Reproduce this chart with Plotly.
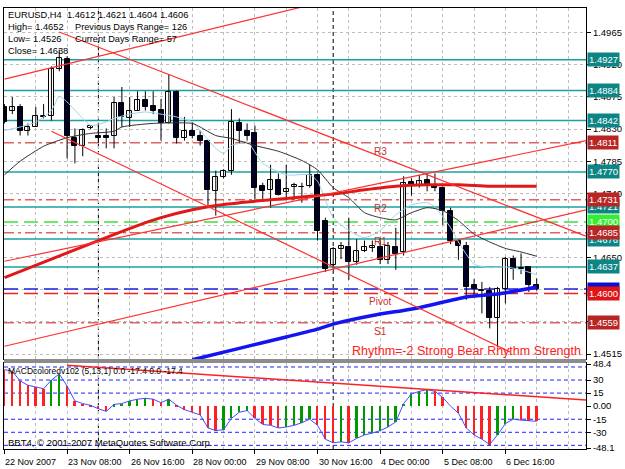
import plotly.graph_objects as go

# ---------------- data ----------------
bar_index = list(range(69))
opens = [1.4861, 1.4856, 1.4861, 1.4827, 1.4833, 1.4847, 1.4849, 1.4914, 1.4928, 1.4817,
         1.4806, 1.4831, 1.4821, 1.4821, 1.4820, 1.4867, 1.4845, 1.4856, 1.4871, 1.4863,
         1.4857, 1.4838, 1.4882, 1.4817, 1.4828, 1.4821, 1.4813, 1.4743, 1.4763, 1.4771,
         1.4838, 1.4827, 1.4824, 1.4750, 1.4745, 1.4759, 1.4742, 1.4749, 1.4749, 1.4750,
         1.4766, 1.4702, 1.4640, 1.4662, 1.4665, 1.4644, 1.4660, 1.4663, 1.4665, 1.4647,
         1.4665, 1.4658, 1.4756, 1.4752, 1.4759, 1.4752, 1.4748, 1.4716, 1.4674, 1.4667,
         1.4612, 1.4605, 1.4604, 1.4565, 1.4606, 1.4648, 1.4635, 1.4637, 1.4612]
highs = [1.4865, 1.4875, 1.4865, 1.4838, 1.4861, 1.4865, 1.4918, 1.4941, 1.4932, 1.4831,
         1.4831, 1.4835, 1.4838, 1.4831, 1.4875, 1.4889, 1.4875, 1.4883, 1.4883, 1.4883,
         1.4872, 1.4907, 1.4884, 1.4847, 1.4840, 1.4828, 1.4815, 1.4772, 1.4774, 1.4858,
         1.4845, 1.4838, 1.4835, 1.4755, 1.4780, 1.4768, 1.4780, 1.4755, 1.4755, 1.4780,
         1.4768, 1.4706, 1.4665, 1.4672, 1.4706, 1.4676, 1.4674, 1.4674, 1.4678, 1.4672,
         1.4692, 1.4764, 1.4761, 1.4766, 1.4768, 1.4768, 1.4750, 1.4720, 1.4676, 1.4672,
         1.4620, 1.4616, 1.4609, 1.4609, 1.4651, 1.4653, 1.4656, 1.4638, 1.4621]
lows = [1.4838, 1.4851, 1.4821, 1.4821, 1.4833, 1.4845, 1.4842, 1.4911, 1.4789, 1.4782,
        1.4792, 1.4830, 1.4810, 1.4803, 1.4803, 1.4833, 1.4833, 1.4856, 1.4856, 1.4851,
        1.4814, 1.4838, 1.4810, 1.4814, 1.4817, 1.4807, 1.4723, 1.4709, 1.4761, 1.4766,
        1.4810, 1.4814, 1.4731, 1.4731, 1.4720, 1.4737, 1.4734, 1.4731, 1.4727, 1.4748,
        1.4674, 1.4630, 1.4633, 1.4648, 1.4619, 1.4640, 1.4658, 1.4658, 1.4641, 1.4641,
        1.4633, 1.4653, 1.4737, 1.4748, 1.4743, 1.4743, 1.4696, 1.4669, 1.4647, 1.4591,
        1.4595, 1.4572, 1.4551, 1.4526, 1.4586, 1.4619, 1.4627, 1.4602, 1.4604]
closes = [1.4840, 1.4861, 1.4827, 1.4833, 1.4849, 1.4849, 1.4914, 1.4930, 1.4820, 1.4807,
          1.4829, 1.4835, 1.4817, 1.4817, 1.4867, 1.4847, 1.4856, 1.4871, 1.4861, 1.4856,
          1.4839, 1.4882, 1.4817, 1.4828, 1.4820, 1.4813, 1.4745, 1.4763, 1.4771, 1.4840,
          1.4828, 1.4820, 1.4748, 1.4743, 1.4759, 1.4738, 1.4746, 1.4752, 1.4749, 1.4766,
          1.4688, 1.4634, 1.4662, 1.4666, 1.4644, 1.4660, 1.4665, 1.4667, 1.4647, 1.4667,
          1.4655, 1.4755, 1.4750, 1.4757, 1.4750, 1.4748, 1.4716, 1.4674, 1.4667, 1.4609,
          1.4606, 1.4603, 1.4565, 1.4606, 1.4648, 1.4634, 1.4634, 1.4612, 1.4606]

slow_ma_bars = [0, 2, 5, 8, 11, 14, 15, 19, 24, 25, 27, 29, 32, 35, 38, 40, 42, 44, 46, 48,
                50, 52, 54, 56, 58, 60, 62, 64, 66, 68]
slow_ma = [1.4766, 1.4785, 1.4806, 1.4818, 1.4824, 1.4827, 1.4833, 1.4838, 1.4838, 1.4833,
           1.4821, 1.4817, 1.4807, 1.4799, 1.4786, 1.4773, 1.4748, 1.4734, 1.4713, 1.4706,
           1.4703, 1.4713, 1.4720, 1.4716, 1.4702, 1.4683, 1.4672, 1.4663, 1.4658, 1.4652]

fast_ma_bars = [0, 2, 4, 6, 7, 8, 10, 11, 13, 14, 16, 18, 20, 22, 24, 25, 27, 28, 29, 30,
                31, 33, 36, 39, 40, 42, 44, 46, 48, 50, 52, 54, 55, 57, 58, 60, 62, 64, 66, 68]
fast_ma = [1.4828, 1.4833, 1.4840, 1.4856, 1.4876, 1.4868, 1.4845, 1.4835, 1.4840, 1.4845,
           1.4851, 1.4854, 1.4851, 1.4847, 1.4840, 1.4828, 1.4803, 1.4796, 1.4807, 1.4810,
           1.4813, 1.4782, 1.4766, 1.4766, 1.4757, 1.4706, 1.4688, 1.4678, 1.4688, 1.4710,
           1.4724, 1.4727, 1.4721, 1.4692, 1.4672, 1.4641, 1.4636, 1.4637, 1.4633, 1.4626]

red_ema_bars = [0, 6, 12, 17, 20, 24, 27, 31, 34, 38, 42, 46, 50, 54, 58, 62, 66, 68]
red_ema = [1.4622, 1.4648, 1.4674, 1.4695, 1.4706, 1.4717, 1.4723, 1.4728, 1.4731, 1.4735,
           1.4739, 1.4745, 1.4750, 1.4752, 1.4752, 1.4750, 1.4750, 1.4750]

blue_ema_bars = [24, 30, 36, 40, 42, 47, 53, 59, 63, 68]
blue_ema = [1.4507, 1.4523, 1.4539, 1.4550, 1.4557, 1.4569, 1.4580, 1.4595, 1.4599, 1.4609]

# trend lines: (bar start, price start, bar end, price end)
trend_lines = [
    (0.0, 1.4900, 38.0, 1.5001),
    (7.0, 1.4966, 74.3, 1.4680),
    (6.0, 1.4827, 64.6, 1.4518),
    (0.0, 1.4645, 74.3, 1.4814),
    (0.0, 1.4526, 74.3, 1.4717),
]

level_prices = [1.4927, 1.4884, 1.4842, 1.4811, 1.4770, 1.4731, 1.4721, 1.4700, 1.4685,
                1.4676, 1.4637, 1.4606, 1.4600, 1.4559]
level_kinds = ['teal', 'teal', 'teal', 'red', 'teal', 'red', 'teal', 'green', 'red',
               'teal', 'teal', 'blue', 'pivot', 'red']

pivot_names = ['R3', 'R2', 'R1', 'Pivot', 'S1']
pivot_prices = [1.4811, 1.4731, 1.4685, 1.4600, 1.4559]
pivot_bar = 48

macd = [42, 40, 29, 24, 22, 20, 30, 37, 23, 6, 3, 1, -3, -6, 2, 3, 6, 8, 9, 8,
        4, 8, 1, -4, -7, -10, -25, -28, -27, -14, -7, -5, -14, -21, -22, -25, -24, -22, -19, -15,
        -22, -38, -42, -41, -42, -37, -33, -31, -28, -24, -18, 3, 14, 17, 19, 17, 10, 0, -8, -25,
        -33, -38, -44, -33, -20, -15, -16, -17, -17.4]
macd_trend = (8.0, 47.0, 74.3, 7.0)
macd_levels = [45, 30, 15, -15, -30, -45]
macd_ticks = [48.4, 30, 15, 0, -15, -30, -48.1]
macd_tick_text = ['48.4', '30', '15', '0.00', '-15', '-30', '-48.1']

price_ticks = [1.4515, 1.4560, 1.4605, 1.4650, 1.4695, 1.4740, 1.4785, 1.4830, 1.4875,
               1.4920, 1.4965]
hidden_price_ticks = [1.4560, 1.4605, 1.4695]   # covered by level labels in the original

x_label_bars = [0, 8, 16, 24, 32, 40, 48, 56, 64]
x_labels = ['22 Nov 2007', '23 Nov 08:00', '26 Nov 16:00', '28 Nov 00:00', '29 Nov 08:00',
            '30 Nov 16:00', '4 Dec 00:00', '5 Dec 08:00', '6 Dec 16:00']
week_separators = [12, 42]

header_lines = ['EURUSD,H4  1.4612 1.4621 1.4604 1.4606', 'High= 1.4652', 'Low= 1.4526',
                'Close= 1.4638']
range_lines = ['Previous Days Range= 126', 'Current Days Range= 57']

# ---------------- figure ----------------
W, H = 625, 469
ML, MR, MT, MB = 3, 39, 3, 20
PW, PH = W - ML - MR, H - MT - MB
FONT = 'Liberation Sans'


def px_x(px):
    return (px - ML) / PW


def px_y(py):
    return (H - MB - py) / PH


main_dom = [px_y(358), 1]
macd_dom = [0, px_y(362)]
xr = [-0.06, 74.3]

fig = go.Figure()

# candle wicks
wx, wy = [], []
for i in bar_index:
    wx += [i, i, None]
    wy += [lows[i], highs[i], None]
fig.add_trace(go.Scatter(x=wx, y=wy, mode='lines', line=dict(color='black', width=1),
                         hoverinfo='skip'))

bull = [i for i in bar_index if closes[i] >= opens[i]]
bear = [i for i in bar_index if closes[i] < opens[i]]
fig.add_trace(go.Bar(x=bull, y=[max(closes[i] - opens[i], 0.00004) for i in bull],
                     base=[opens[i] for i in bull], width=0.64,
                     marker=dict(color='white', line=dict(color='black', width=1))))
fig.add_trace(go.Bar(x=bear, y=[max(opens[i] - closes[i], 0.00004) for i in bear],
                     base=[closes[i] for i in bear], width=0.64,
                     marker=dict(color='#000030', line=dict(color='black', width=1))))

# moving averages
fig.add_trace(go.Scatter(x=fast_ma_bars, y=fast_ma, mode='lines',
                         line=dict(color='#9fd4e6', width=1, shape='spline', smoothing=0.6)))
fig.add_trace(go.Scatter(x=slow_ma_bars, y=slow_ma, mode='lines',
                         line=dict(color='#303030', width=1, shape='spline', smoothing=0.6)))
fig.add_trace(go.Scatter(x=red_ema_bars, y=red_ema, mode='lines',
                         line=dict(color='#e01818', width=3, shape='spline', smoothing=0.6)))
fig.add_trace(go.Scatter(x=blue_ema_bars, y=blue_ema, mode='lines',
                         line=dict(color='#1414f0', width=3.5, shape='spline', smoothing=0.6)))

# trend lines
for (x0, y0, x1, y1) in trend_lines:
    fig.add_trace(go.Scatter(x=[x0, x1], y=[y0, y1], mode='lines',
                             line=dict(color='#ff3030', width=1.2)))

# MACD
macd_colors = []
for i, v in enumerate(macd):
    macd_colors.append('#009a00' if i > 0 and v > macd[i - 1] else '#ff2020')
fig.add_trace(go.Bar(x=bar_index, y=macd, width=0.24,
                     marker=dict(color=macd_colors, line=dict(width=0)),
                     xaxis='x2', yaxis='y2'))
fig.add_trace(go.Scatter(x=bar_index, y=macd, mode='lines', line=dict(color='#4a4aff', width=1),
                         xaxis='x2', yaxis='y2'))
fig.add_trace(go.Scatter(x=[macd_trend[0], macd_trend[2]], y=[macd_trend[1], macd_trend[3]],
                         mode='lines', line=dict(color='#ff2020', width=1.5), xaxis='x2',
                         yaxis='y2'))

shapes = []
styles = {
    'teal': dict(line='#1aa0a0', dash='solid', bg='#0e8585', z=0),
    'blue': dict(line='#1e1ee0', dash='14px,6px', bg='#1010cc', z=1),
    'green': dict(line='#3ee03e', dash='14px,6px', bg='#33ee33', z=2),
    'red': dict(line='#e06262', dash='10px,4px,3px,4px', bg='#b82525', z=3),
    'pivot': dict(line='#ee2020', dash='14px,6px', bg='#dd1515', z=3),
}
annotations = []
for p, k in zip(level_prices, level_kinds):
    st = styles[k]
    shapes.append(dict(type='line', xref='x', yref='y', x0=xr[0], x1=xr[1], y0=p, y1=p,
                       line=dict(color=st['line'], width=1.5, dash=st['dash']), layer='between'))
# labels: teal first, red last so red ones sit on top (as in the original)
order = sorted(range(len(level_prices)), key=lambda j: styles[level_kinds[j]]['z'])
for j in order:
    p, st = level_prices[j], styles[level_kinds[j]]
    annotations.append(dict(xref='paper', yref='y', x=1, y=p, xanchor='left', yanchor='middle',
                            xshift=1, text=f'{p:.4f}', showarrow=False, bgcolor=st['bg'],
                            borderpad=1, font=dict(family=FONT, size=9.5, color='white')))

for x in week_separators:
    shapes.append(dict(type='line', xref='x', yref='paper', x0=x, x1=x, y0=0, y1=1,
                       line=dict(color='black', width=1, dash='4px,3px'), layer='between'))
for lv in macd_levels:
    shapes.append(dict(type='line', xref='x2', yref='y2', x0=xr[0], x1=xr[1], y0=lv, y1=lv,
                       line=dict(color='#2020ff', width=1, dash='4px,3px'), layer='between'))
# separator between panels
shapes.append(dict(type='rect', xref='paper', yref='paper', x0=0, x1=1, y0=macd_dom[1],
                   y1=main_dom[0], fillcolor='#8c8c8c', line=dict(width=0)))

for name, p in zip(pivot_names, pivot_prices):
    annotations.append(dict(xref='x', yref='y', x=pivot_bar, y=p, xanchor='center',
                            yanchor='top', yshift=-1, text=name, showarrow=False,
                            font=dict(family=FONT, size=10, color='#c83030')))

for j, t in enumerate(header_lines):
    annotations.append(dict(xref='paper', yref='paper', x=px_x(5), y=px_y(10 + 12 * j),
                            xanchor='left', yanchor='middle', text=t, showarrow=False,
                            font=dict(family=FONT, size=9.3, color='black')))
for j, t in enumerate(range_lines):
    annotations.append(dict(xref='paper', yref='paper', x=px_x(72), y=px_y(22 + 12 * j),
                            xanchor='left', yanchor='middle', text=t, showarrow=False,
                            font=dict(family=FONT, size=9.2, color='black')))

annotations.append(dict(xref='paper', yref='paper', x=px_x(583), y=px_y(350), xanchor='right',
                        yanchor='middle', text='Rhythm=-2 Strong Bear Rhythm Strength',
                        showarrow=False, font=dict(family=FONT, size=12.5, color='#ff2020')))
annotations.append(dict(xref='paper', yref='paper', x=px_x(5), y=px_y(370), xanchor='left',
                        yanchor='middle', text='MACDcoloredv102 (5,13,1) 0.0 -17.4 0.0 -17.4',
                        showarrow=False, font=dict(family=FONT, size=8.5, color='black')))
annotations.append(dict(xref='paper', yref='paper', x=px_x(5), y=px_y(442), xanchor='left',
                        yanchor='middle', text='BBT4, © 2001-2007 MetaQuotes Software Corp.',
                        showarrow=False, font=dict(family=FONT, size=9.5, color='black')))
for b, t in zip(x_label_bars, x_labels):
    annotations.append(dict(xref='x2', yref='paper', x=b, y=px_y(462), xanchor='left',
                            yanchor='middle', xshift=-1, text=t, showarrow=False,
                            font=dict(family=FONT, size=9, color='black')))

grid = dict(showgrid=True, gridcolor='#bdbdbd', griddash='dot', gridwidth=1)
fig.update_layout(
    width=W, height=H, margin=dict(l=ML, r=MR, t=MT, b=MB),
    paper_bgcolor='white', plot_bgcolor='white', showlegend=False, barmode='overlay',
    bargap=0,
    xaxis=dict(domain=[0, 1], anchor='y', range=xr, tickvals=x_label_bars, showticklabels=False,
               ticks='', showline=True, linecolor='black', mirror=True, zeroline=False,
               minor=dict(dtick=4, tick0=0, showgrid=True, gridcolor='#bdbdbd', griddash='dot'),
               **grid),
    yaxis=dict(domain=main_dom, anchor='x', range=[1.45081, 1.49996], side='right',
               tickvals=price_ticks,
               ticktext=['' if v in hidden_price_ticks else f'{v:.4f}' for v in price_ticks],
               ticks='outside', ticklen=4, tickcolor='black', showline=True, linecolor='black',
               mirror=True, zeroline=False, tickfont=dict(family=FONT, size=9.5, color='black'),
               **grid),
    xaxis2=dict(domain=[0, 1], anchor='y2', range=xr, tickvals=x_label_bars,
                showticklabels=False, ticks='outside', ticklen=4, tickcolor='black',
                showline=True, linecolor='black', mirror=True, zeroline=False,
                minor=dict(dtick=4, tick0=0, showgrid=True, gridcolor='#bdbdbd', griddash='dot'),
                **grid),
    yaxis2=dict(domain=macd_dom, anchor='x2', range=[-49.2, 49.6], side='right',
                tickvals=macd_ticks, ticktext=macd_tick_text, ticks='outside', ticklen=4,
                tickcolor='black', showline=True, linecolor='black', mirror=True,
                zeroline=False, showgrid=False,
                tickfont=dict(family=FONT, size=9.5, color='black')),
    shapes=shapes, annotations=annotations,
)

fig.write_html('out.html')
